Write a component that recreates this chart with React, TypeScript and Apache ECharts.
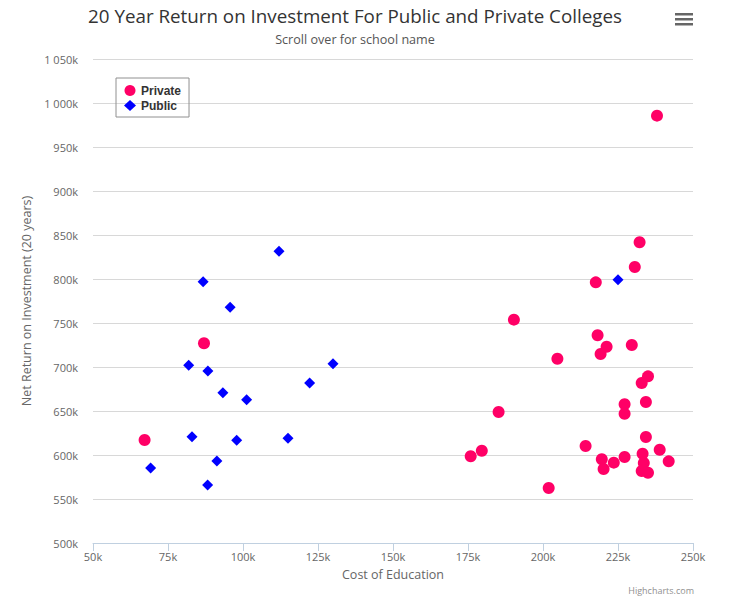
import React, { useEffect, useRef } from "react";
import * as echarts from "echarts";

// Values in thousands of dollars
const privateCost = [67.2, 87, 238, 232.2, 230.6, 217.6, 190.3, 218.2, 221.2, 219.2, 229.6, 204.8, 235, 232.9, 234.3, 227.2, 227.2, 185.2, 234.3, 214.2, 238.9, 179.6, 175.9, 233.2, 227.2, 219.6, 223.6, 233.6, 241.9, 220.2, 232.9, 235, 201.9];
const privateReturn = [617, 727, 985.6, 841.7, 813.6, 796.2, 753.8, 736, 723, 714.8, 725, 709.4, 689.4, 681.8, 660.2, 657.6, 646.9, 648.9, 620.5, 610.2, 606, 604.9, 598.5, 601.5, 597.7, 595.1, 591.3, 590.9, 592.8, 584.1, 581.8, 579.9, 562.5];

const publicCost = [112, 86.7, 95.7, 81.9, 88.3, 130, 122.2, 93.3, 101.2, 83, 97.9, 115, 69.2, 91.3, 88.2, 225];
const publicReturn = [831.5, 797, 767.8, 702, 695.5, 703.8, 681.8, 670.8, 662.9, 620.8, 616.7, 619, 585.2, 593.2, 565.9, 799.2];

const seriesNames = ["Private", "Public"];
const titleText = "20 Year Return on Investment For Public and Private Colleges";
const subtitleText = "Scroll over for school name";
const xAxisTitle = "Cost of Education";
const yAxisTitle = "Net Return on Investment (20 years)";

const FONT = '"Open Sans", "Liberation Sans", Arial, sans-serif';
const LEGEND_FONT = '"Liberation Sans", Arial, sans-serif';

function fmtK(v: number): string {
  if (v >= 1000) {
    const th = Math.floor(v / 1000);
    const rest = String(Math.round(v % 1000)).padStart(3, "0");
    return th + " " + rest + "k";
  }
  return v + "k";
}

export default function App() {
  const ref = useRef<HTMLDivElement>(null);
  useEffect(() => {
    if (!ref.current) return;
    const chart = echarts.init(ref.current, undefined, { renderer: "svg" });
    const privData = privateCost.map((c, i) => [c, privateReturn[i]]);
    const pubData = publicCost.map((c, i) => [c, publicReturn[i]]);
    chart.setOption({
      animation: false,
      textStyle: { fontFamily: FONT },
      grid: { left: 93, right: 44, top: 59, bottom: 66 },
      legend: {
        orient: "vertical",
        left: 116,
        top: 78,
        padding: [6, 8, 5, 8],
        itemGap: 2,
        itemWidth: 12,
        itemHeight: 11,
        borderColor: "#909090",
        borderWidth: 1,
        textStyle: { fontWeight: "bold", fontSize: 12, lineHeight: 13, color: "#333", fontFamily: LEGEND_FONT },
        data: [
          { name: seriesNames[0], icon: "circle" },
          { name: seriesNames[1], icon: "diamond" },
        ],
      },
      xAxis: {
        type: "value",
        min: 50,
        max: 250,
        interval: 25,
        name: xAxisTitle,
        nameLocation: "middle",
        nameGap: 25,
        nameTextStyle: { color: "#666", fontSize: 12.5, fontFamily: FONT },
        axisLine: { show: true, lineStyle: { color: "#C0D0E0" } },
        axisTick: { show: true, length: 8, lineStyle: { color: "#C0D0E0" } },
        axisLabel: { color: "#666", fontSize: 11, margin: 8, formatter: (v: number) => fmtK(v), fontFamily: FONT },
        splitLine: { show: false },
      },
      yAxis: {
        type: "value",
        min: 500,
        max: 1050,
        interval: 50,
        name: yAxisTitle,
        nameLocation: "middle",
        nameGap: 58,
        nameTextStyle: { color: "#666", fontSize: 12.5, fontFamily: FONT },
        axisLine: { show: false },
        axisTick: { show: false },
        axisLabel: { color: "#666", fontSize: 11, margin: 15, formatter: (v: number) => fmtK(v), fontFamily: FONT },
        splitLine: { show: true, lineStyle: { color: "#D8D8D8" } },
      },
      graphic: [
        {
          type: "text",
          x: 355,
          y: 15.5,
          style: { text: titleText, textAlign: "center", textVerticalAlign: "middle", fill: "#333", font: `18.8px ${FONT}` },
        },
        {
          type: "text",
          x: 355,
          y: 39,
          style: { text: subtitleText, textAlign: "center", textVerticalAlign: "middle", fill: "#555", font: `12.6px ${FONT}` },
        },
        {
          type: "text",
          x: 694,
          y: 590,
          style: { text: "Highcharts.com", textAlign: "right", textVerticalAlign: "middle", fill: "#909090", font: `9px ${FONT}` },
        },
        { type: "rect", shape: { x: 675, y: 13, width: 18, height: 2.5 }, style: { fill: "#666" } },
        { type: "rect", shape: { x: 675, y: 18, width: 18, height: 2.5 }, style: { fill: "#666" } },
        { type: "rect", shape: { x: 675, y: 23, width: 18, height: 2.5 }, style: { fill: "#666" } },
      ],
      series: [
        {
          name: seriesNames[0],
          type: "scatter",
          symbol: "circle",
          symbolSize: 12,
          itemStyle: { color: "#FF0066", opacity: 1 },
          data: privData,
        },
        {
          name: seriesNames[1],
          type: "scatter",
          symbol: "diamond",
          symbolSize: 11,
          itemStyle: { color: "#0000FF", opacity: 1 },
          data: pubData,
        },
      ],
    });
    return () => chart.dispose();
  }, []);
  return (
    <div
      ref={ref}
      style={{ position: "absolute", left: 0, top: 0, width: 737, height: 609, background: "#fff" }}
    />
  );
}
